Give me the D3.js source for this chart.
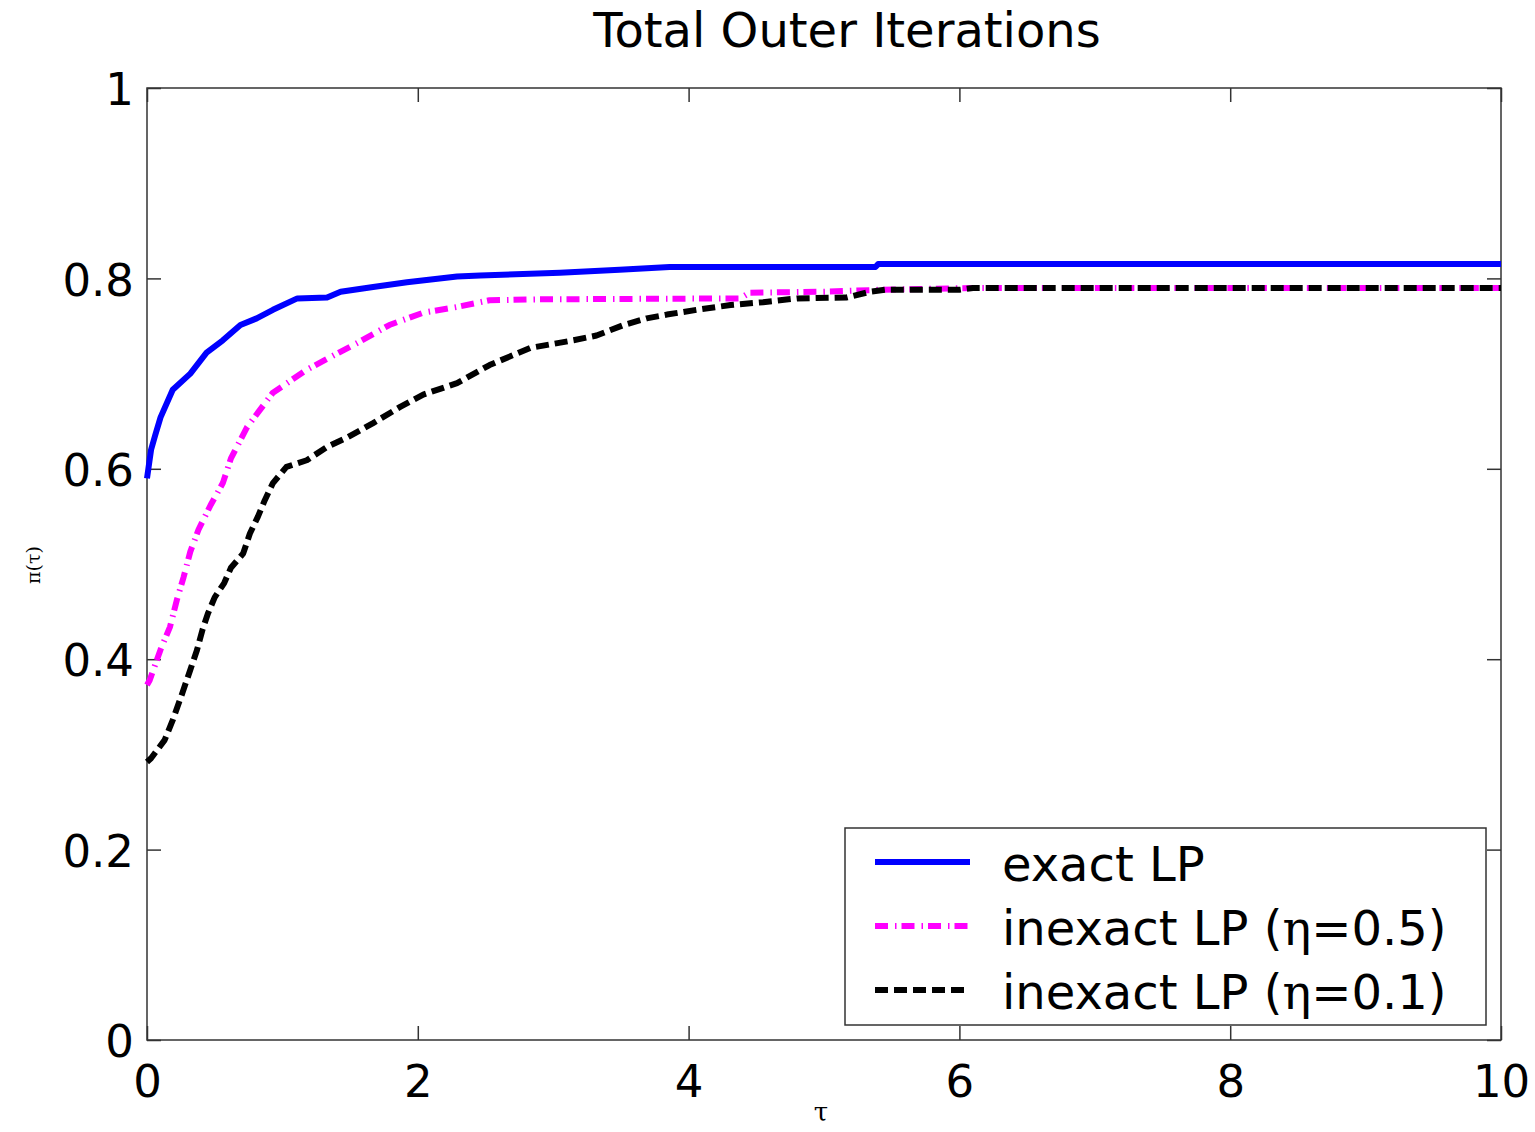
<!DOCTYPE html>
<meta charset="utf-8">
<title>Total Outer Iterations</title>
<style>
body { margin: 0; background: #fff; }
.curve { fill: none; stroke-linejoin: round; }
.axis text { font-family: "DejaVu Sans", sans-serif; font-size: 45px; fill: #000; }
.axis line { stroke: #333; stroke-width: 1.5px; }
</style>
<script src="https://d3js.org/d3.v7.min.js"></script>
<body>
<script>
var width = 1535;
var height = 1132;

// performance profile values: [tau, pi(tau)]
var exactLP = [[0, 0.590], [0.01, 0.600], [0.03, 0.620], [0.06, 0.635], [0.10, 0.654], [0.19, 0.683],
  [0.32, 0.700], [0.44, 0.722], [0.56, 0.735], [0.69, 0.751], [0.81, 0.758], [0.93, 0.767],
  [1.11, 0.779], [1.33, 0.780], [1.43, 0.786], [1.67, 0.791], [1.92, 0.796], [2.29, 0.802],
  [2.46, 0.803], [3.05, 0.806], [3.49, 0.809], [3.86, 0.812], [5.38, 0.812], [5.40, 0.815], [10, 0.815]];

var inexact05 = [[0, 0.373], [0.02, 0.378], [0.10, 0.410], [0.17, 0.434], [0.22, 0.462], [0.27, 0.486],
  [0.32, 0.513], [0.38, 0.536], [0.47, 0.562], [0.56, 0.585], [0.62, 0.611], [0.74, 0.644],
  [0.93, 0.680], [1.18, 0.704], [1.35, 0.717], [1.55, 0.732], [1.79, 0.751], [2.04, 0.764],
  [2.29, 0.770], [2.53, 0.777], [2.90, 0.778], [4.38, 0.779], [4.45, 0.785], [5.00, 0.786],
  [5.40, 0.788], [6.10, 0.790], [10, 0.790]];

var inexact01 = [[0, 0.292], [0.03, 0.296], [0.13, 0.315], [0.19, 0.336], [0.26, 0.364], [0.32, 0.389],
  [0.37, 0.410], [0.41, 0.431], [0.45, 0.448], [0.50, 0.465], [0.57, 0.480], [0.62, 0.496],
  [0.71, 0.511], [0.76, 0.532], [0.82, 0.550], [0.87, 0.567], [0.93, 0.585], [1.03, 0.602],
  [1.18, 0.609], [1.33, 0.623], [1.48, 0.633], [1.67, 0.648], [1.87, 0.665], [2.04, 0.678],
  [2.29, 0.690], [2.53, 0.709], [2.83, 0.727], [3.15, 0.735], [3.32, 0.740], [3.52, 0.751],
  [3.69, 0.758], [3.84, 0.762], [4.06, 0.767], [4.31, 0.772], [4.55, 0.775], [4.80, 0.779],
  [5.17, 0.780], [5.34, 0.786], [5.45, 0.788], [6.00, 0.788], [6.10, 0.790], [10, 0.790]];

var seriesNames = ["exact LP", "inexact LP (", "inexact LP ("];
var etaLabels = ["", "0.5", "0.1"];
var xTicks = [0, 2, 4, 6, 8, 10];
var yTicks = [0, 0.2, 0.4, 0.6, 0.8, 1];

var svg = d3.select("body").append("svg")
    .attr("width", width)
    .attr("height", height);

var x = d3.scaleLinear().domain([0, 10]).range([147, 1501]);
var y = d3.scaleLinear().domain([0, 1]).range([1040, 88]);

// line styles, same order as the series
var styles = [
  {color: "#0000ff", dash: null},
  {color: "#ff00ff", dash: "13,7,1.5,5"},
  {color: "#000000", dash: "13,6"}
];
var series = [exactLP, inexact05, inexact01];

var line = d3.line()
    .x(function(d) { return x(d[0]); })
    .y(function(d) { return y(d[1]); });

// axes, ticks pointing inward on all four sides
var gx = svg.append("g").attr("class", "axis")
    .attr("transform", "translate(0,1040)")
    .call(d3.axisBottom(x).tickValues(xTicks).tickSize(-14).tickSizeOuter(0).tickPadding(25).tickFormat(d3.format("d")));
var gy = svg.append("g").attr("class", "axis")
    .attr("transform", "translate(147,0)")
    .call(d3.axisLeft(y).tickValues(yTicks).tickSize(-14).tickSizeOuter(0).tickPadding(13)
      .tickFormat(function(d) { return d === 0 || d === 1 ? d3.format("d")(d) : d3.format(".1f")(d); }));
gy.selectAll("text").attr("dy", "0.37em");
svg.append("g").attr("class", "axis")
    .attr("transform", "translate(0,88)")
    .call(d3.axisTop(x).tickValues(xTicks).tickSize(-14).tickSizeOuter(0).tickFormat(""));
svg.append("g").attr("class", "axis")
    .attr("transform", "translate(1501,0)")
    .call(d3.axisRight(y).tickValues(yTicks).tickSize(-14).tickSizeOuter(0).tickFormat(""));
svg.selectAll(".axis .domain").remove();

svg.append("rect")
    .attr("x", x(0)).attr("y", y(1))
    .attr("width", x(10) - x(0)).attr("height", y(0) - y(1))
    .attr("fill", "none").attr("stroke", "#333").attr("stroke-width", 1.5);

svg.selectAll(".curve")
    .data(series)
  .enter().append("path")
    .attr("class", "curve")
    .attr("d", line)
    .attr("stroke", function(d, i) { return styles[i].color; })
    .attr("stroke-width", 6)
    .attr("stroke-dasharray", function(d, i) { return styles[i].dash; });

// title and axis labels
svg.append("text")
    .attr("x", 847).attr("y", 47)
    .attr("text-anchor", "middle")
    .attr("font-family", "DejaVu Sans, sans-serif")
    .attr("font-size", 48)
    .text("Total Outer Iterations");

svg.append("text")
    .attr("x", 821).attr("y", 1121)
    .attr("text-anchor", "middle")
    .attr("font-family", "DejaVu Serif, serif")
    .attr("font-size", 26)
    .text("τ");

svg.append("text")
    .attr("transform", "translate(40,565) rotate(-90)")
    .attr("text-anchor", "middle")
    .attr("font-family", "DejaVu Serif, serif")
    .attr("font-size", 19)
    .text("π(τ)");

// legend
var legend = svg.append("g");
legend.append("rect")
    .attr("x", 845).attr("y", 828)
    .attr("width", 641).attr("height", 197)
    .attr("fill", "#fff").attr("stroke", "#333").attr("stroke-width", 1.5);

var rowY = [862, 926, 990];
seriesNames.forEach(function(name, i) {
  legend.append("line")
      .attr("x1", 875).attr("x2", 970)
      .attr("y1", rowY[i]).attr("y2", rowY[i])
      .attr("stroke", styles[i].color)
      .attr("stroke-width", 6)
      .attr("stroke-dasharray", styles[i].dash);
  var t = legend.append("text")
      .attr("x", 1002).attr("y", rowY[i] + 19)
      .attr("font-family", "DejaVu Sans, sans-serif")
      .attr("font-size", 48)
      .text(name);
  if (etaLabels[i]) {
    t.append("tspan").attr("font-family", "DejaVu Serif, serif").text("η");
    t.append("tspan").text("=" + etaLabels[i] + ")");
  }
});
</script>
</body>
